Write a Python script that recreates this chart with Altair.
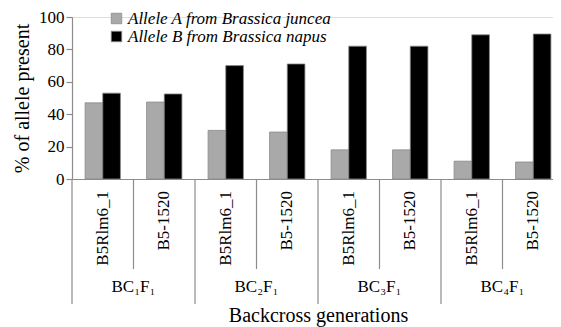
import altair as alt
import pandas as pd

generations = ["BC₁F₁", "BC₂F₁", "BC₃F₁", "BC₄F₁"]
markers = ["B5Rlm6_1", "B5-1520"]
series = ["Allele A from Brassica juncea", "Allele B from Brassica napus"]
allele_a = [47, 47.5, 30, 29, 18, 18, 11, 10.5]
allele_b = [53, 52.5, 70, 71, 82, 82, 89, 89.5]
y_ticks = [0, 20, 40, 60, 80, 100]

FONT = "Times New Roman"
W, H = 492, 162

cols, col_marker, col_gen, col_idx = [], [], [], []
i = 0
for g in generations:
    for m in markers:
        cols.append(f"{g}|{m}")
        col_marker.append(m)
        col_gen.append(g)
        col_idx.append(i)
        i += 1

rows = []
for k, c in enumerate(cols):
    rows.append({"col": c, "series": series[0], "value": allele_a[k]})
    rows.append({"col": c, "series": series[1], "value": allele_b[k]})
bars_df = pd.DataFrame(rows)
cols_df = pd.DataFrame({"col": cols, "marker": col_marker, "gen": col_gen, "idx": col_idx})

xscale = alt.Scale(domain=cols, paddingInner=0, paddingOuter=0)

bars = alt.Chart(bars_df).mark_bar(stroke="#8a8a8a", strokeWidth=0.8).encode(
    x=alt.X("col:N", scale=xscale, sort=cols,
            axis=alt.Axis(labels=False, ticks=False, domainColor="#8c8c8c", domainWidth=1.2,
                          title="Backcross generations", titleFont=FONT, titleFontSize=20,
                          titleFontWeight="normal", titleColor="black", titlePadding=126)),
    xOffset=alt.XOffset("series:N", scale=alt.Scale(domain=series, paddingInner=0, paddingOuter=0.74)),
    y=alt.Y("value:Q", scale=alt.Scale(domain=[0, 100], nice=False),
            axis=alt.Axis(values=y_ticks, grid=False, tickSize=6, tickColor="#8c8c8c",
                          domainColor="#8c8c8c", domainWidth=1.2, tickWidth=1.2,
                          labelFont=FONT, labelFontSize=17, labelColor="black", labelPadding=2,
                          title="% of allele present", titleFont=FONT, titleFontSize=20,
                          titleFontWeight="normal", titleColor="black", titlePadding=6)),
    color=alt.Color("series:N",
                    scale=alt.Scale(domain=series, range=["#a9a9a9", "#000000"]),
                    legend=alt.Legend(title=None, orient="none", legendX=36, legendY=-7,
                                      symbolType="square", symbolSize=110,
                                      symbolStrokeColor="#8a8a8a", symbolStrokeWidth=0.8,
                                      labelFont=FONT, labelFontSize=17, labelFontStyle="italic",
                                      labelColor="black", labelLimit=0, rowPadding=0, labelOffset=3)),
)

base = alt.Chart(cols_df)

inner_sep = base.transform_filter("datum.idx % 2 == 1").mark_rule(color="#8c8c8c", strokeWidth=1.2).encode(
    x=alt.X("col:N", scale=xscale, sort=cols, bandPosition=0),
    y=alt.value(H),
    y2=alt.value(H + 90),
)
outer_sep = base.transform_filter("datum.idx % 2 == 0").mark_rule(color="#8c8c8c", strokeWidth=1.2).encode(
    x=alt.X("col:N", scale=xscale, sort=cols, bandPosition=0),
    y=alt.value(H),
    y2=alt.value(H + 125),
)
marker_text = base.mark_text(angle=270, align="right", baseline="middle",
                             font=FONT, fontSize=17, color="black").encode(
    x=alt.X("col:N", scale=xscale, sort=cols),
    y=alt.value(H + 12),
    text="marker:N",
)
gen_text = base.transform_filter("datum.idx % 2 == 0").mark_text(
    align="center", baseline="alphabetic", font=FONT, fontSize=17, color="black").encode(
    x=alt.X("col:N", scale=xscale, sort=cols, bandPosition=1),
    y=alt.value(H + 113),
    text="gen:N",
)

chart = alt.layer(bars, inner_sep, outer_sep, marker_text, gen_text).properties(
    width=W, height=H,
    autosize=alt.AutoSizeParams(type="none"),
    padding={"left": 64, "top": 9, "right": -11, "bottom": 148},
)

chart.save("out.html", embed_options={"renderer": "svg", "actions": False})
